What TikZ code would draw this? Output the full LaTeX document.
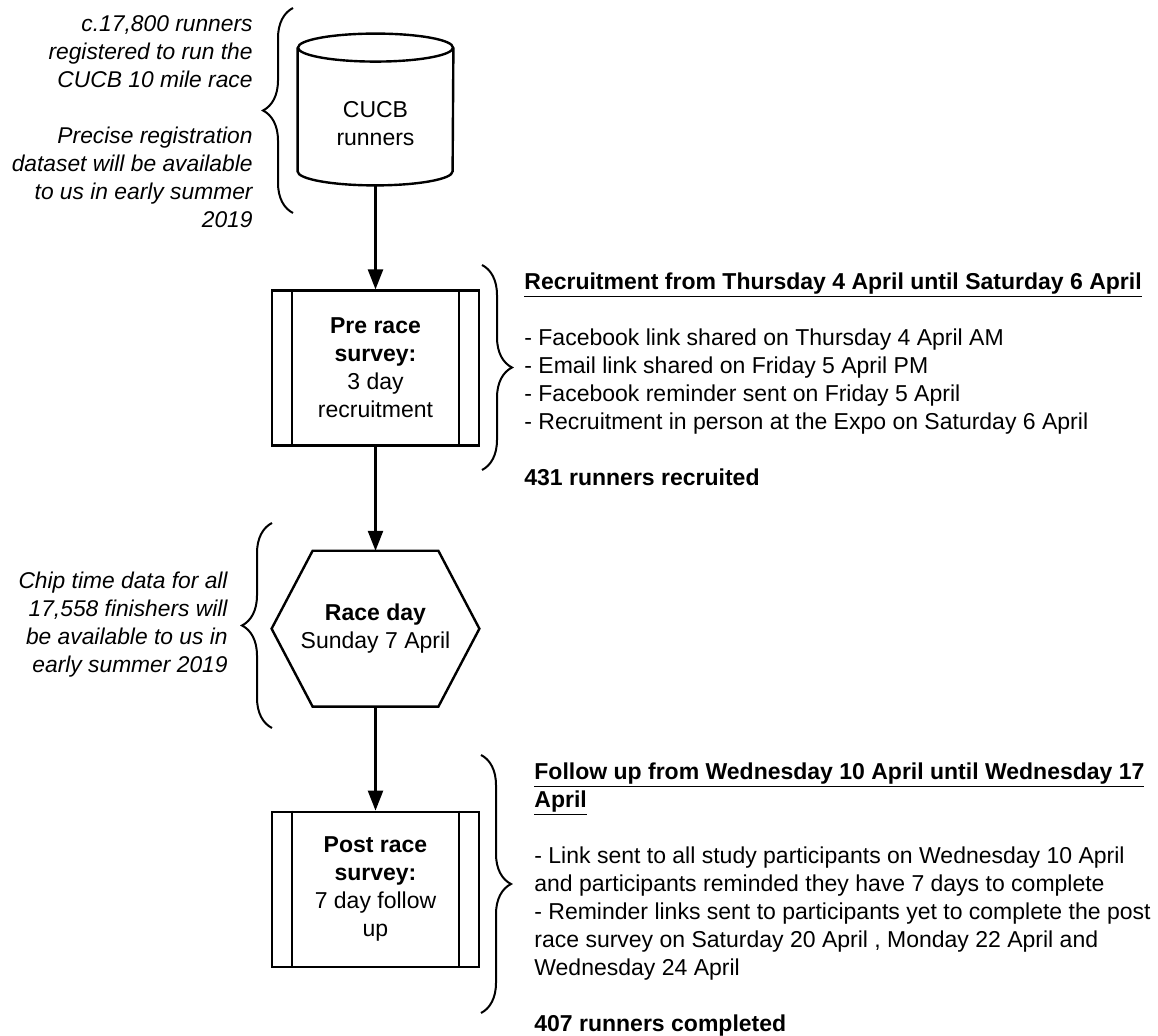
\documentclass[tikz,border=0pt]{standalone}
\usepackage{fontspec}
\setmainfont{Liberation Sans}
\usetikzlibrary{positioning,arrows.meta,decorations.pathreplacing}
\begin{document}
\begin{tikzpicture}[x=0.5pt,y=-0.5pt,
        node distance=52pt,
        font=\fontsize{11.5pt}{14pt}\selectfont,
        stage/.style={
            rectangle,
            minimum width=103.5pt,
            minimum height=77.5pt,
            align=center},
        note/.style={
            inner sep=0pt,
            font=\fontsize{11.4pt}{14pt}\selectfont\itshape,
            align=right},
        info/.style={
            inner sep=0pt,
            align=left},
        outline/.style={
            line width=1.2pt},
        arrow/.style={
            line width=1.2pt,
            -{Triangle[length=10pt,width=7.5pt]}},
        bracket/.style={
            line width=1pt,
            decorate,
            decoration={brace, amplitude=15pt}}
        ]

        \useasboundingbox (0,0) rectangle (1158,1036);

        \node (cucb) [stage, minimum width=77.5pt, minimum height=61.5pt] at (375.5,123.5) {CUCB\\runners};
        \node (pre) [stage, draw, outline, below=52pt of cucb] {\textbf{Pre race}\\\textbf{survey:}\\3 day\\recruitment};
        \node (race) [stage, below=52pt of pre] {\textbf{Race day}\\Sunday 7 April};
        \node (post) [stage, draw, outline, below=52pt of race] {\textbf{Post race}\\\textbf{survey:}\\7 day follow\\up};

        % cylinder and hexagon outlines
        \draw [outline] ([yshift=7pt]cucb.north) ellipse [x radius=38.75pt, y radius=7pt];
        \draw [outline] ([yshift=7pt]cucb.north west) -- ([yshift=7pt]cucb.south west)
            arc [start angle=180, end angle=360, x radius=38.75pt, y radius=7pt]
            -- ([yshift=7pt]cucb.north east);
        \draw [outline] (race.west) -- ([xshift=20.5pt]race.north west) -- ([xshift=-20.5pt]race.north east)
            -- (race.east) -- ([xshift=-20.5pt]race.south east) -- ([xshift=20.5pt]race.south west) -- cycle;
        \foreach \n in {pre, post} {
            \draw [outline] ([xshift=10.5pt]\n.north west) -- ([xshift=10.5pt]\n.south west);
            \draw [outline] ([xshift=-10.5pt]\n.north east) -- ([xshift=-10.5pt]\n.south east);
        }

        \draw [arrow] (cucb) -- (pre);
        \draw [arrow] (pre) -- (race);
        \draw [arrow] (race) -- (post);

        % side notes
        \node (regnote) [note, anchor=north east] at (253,15) {c.17,800 runners\\registered to run the\\CUCB 10 mile race\\[14pt]Precise registration\\dataset will be available\\to us in early summer\\2019};
        \node (chipnote) [note, anchor=north east] at (228,572) {Chip time data for all\\17,558 finishers will\\be available to us in\\early summer 2019};
        \node (recruit) [info, anchor=north west] at (524,272) {\textbf{\underline{Recruitment from Thursday 4 April until Saturday 6 April}}\\[14pt]- Facebook link shared on Thursday 4 April AM\\- Email link shared on Friday 5 April PM\\- Facebook reminder sent on Friday 5 April\\- Recruitment in person at the Expo on Saturday 6 April\\[14pt]\textbf{431 runners recruited}};
        \node (follow) [info, anchor=north west] at (534,762) {\textbf{\underline{Follow up from Wednesday 10 April until Wednesday 17}}\\\textbf{\underline{April}}\\[14pt]- Link sent to all study participants on Wednesday 10 April\\and participants reminded they have 7 days to complete\\- Reminder links sent to participants yet to complete the post\\race survey on Saturday 20 April , Monday 22 April and\\Wednesday 24 April\\[14pt]\textbf{407 runners completed}};

        \draw [bracket] (293,213) -- (293,8);
        \draw [bracket] (482,265) -- (482,470);
        \draw [bracket] (272,728) -- (272,523);
        \draw [bracket] (481,755) -- (481,1013);

\end{tikzpicture}
\end{document}
